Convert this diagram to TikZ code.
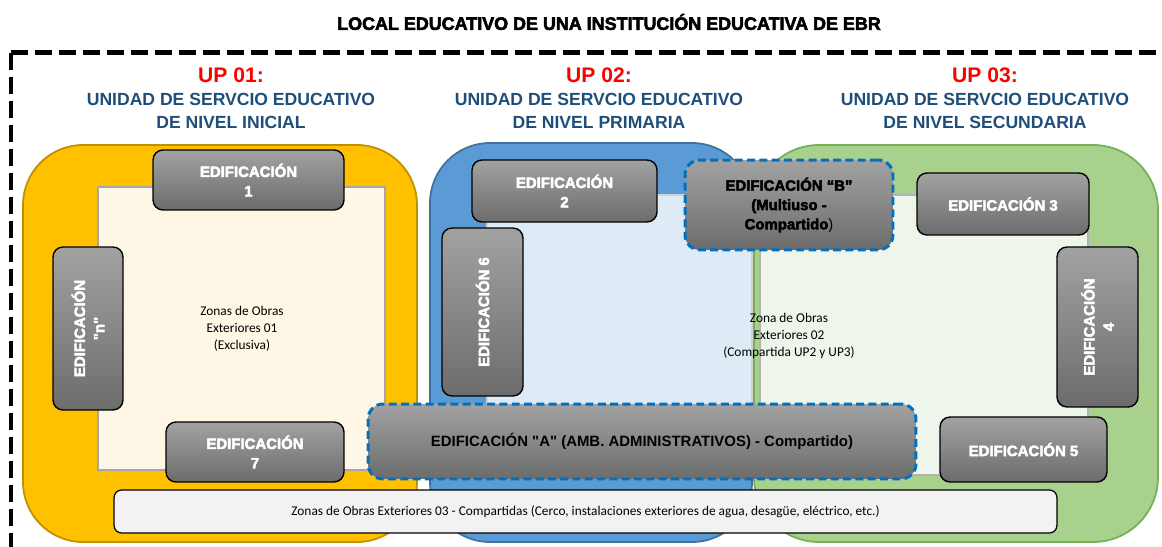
\documentclass[tikz,border=0pt]{standalone}
\usepackage{fontspec}
\setmainfont{Liberation Sans}
\newfontfamily\calibri{Carlito}
\newfontfamily\heavy{Liberation Sans}[BoldFeatures={FakeBold=3}]
\usepackage{tikz}

\definecolor{edtop}{RGB}{162,162,162}
\definecolor{edbot}{RGB}{108,108,108}
\definecolor{upblue}{RGB}{31,78,121}
\definecolor{upred}{RGB}{255,0,0}
\definecolor{zyellow}{RGB}{255,192,0}
\definecolor{zyellowb}{RGB}{191,144,0}
\definecolor{cream}{RGB}{255,247,229}
\definecolor{zblue}{RGB}{91,155,213}
\definecolor{zblueb}{RGB}{65,113,156}
\definecolor{lblue}{RGB}{222,235,247}
\definecolor{zgreen}{RGB}{169,209,142}
\definecolor{zgreenb}{RGB}{120,175,85}
\definecolor{lgreen}{RGB}{238,245,234}
\definecolor{dashblue}{RGB}{0,112,192}
\definecolor{barfill}{RGB}{242,242,242}

\begin{document}
\begin{tikzpicture}[x=0.02cm, y=-0.02cm,
  edif/.style={draw=black, line width=0.8pt, rounded corners=0.2cm,
    top color=edtop, bottom color=edbot, text=white, align=center,
    font=\heavy\bfseries\fontsize{8.5}{11}\selectfont, inner sep=2pt},
  shared/.style={draw=dashblue, line width=1.7pt, dash pattern=on 4.5pt off 2.5pt,
    rounded corners=0.3cm, top color=edtop, bottom color=edbot, text=black, align=center},
  zona/.style={font=\calibri\fontsize{7.6}{9.6}\selectfont, align=center},
  uptitle/.style={font=\bfseries\fontsize{12}{14}\selectfont, text=upred},
  upname/.style={font=\bfseries\fontsize{10}{13.3}\selectfont, text=upblue, align=center}]

\useasboundingbox (0,0) rectangle (1162,547);

% titulo y borde del local
\node[font=\heavy\bfseries\fontsize{10.2}{12}\selectfont] (titulo) at (609,22)
  {LOCAL EDUCATIVO DE UNA INSTITUCIÓN EDUCATIVA DE EBR};
\draw[line width=0.1cm, dash pattern=on 0.34cm off 0.14cm] (11,53) -- (1162,53);
\draw[line width=0.1cm, dash pattern=on 0.34cm off 0.14cm] (11,53) -- (11,547);

% unidades de servicio
\node[uptitle] (up1) at (231,75) {UP 01:};
\node[upname] (up1n) at (231,111) {UNIDAD DE SERVCIO EDUCATIVO\\DE NIVEL INICIAL};
\node[uptitle] (up2) at (599,75) {UP 02:};
\node[upname] (up2n) at (599,111) {UNIDAD DE SERVCIO EDUCATIVO\\DE NIVEL PRIMARIA};
\node[uptitle] (up3) at (985,75) {UP 03:};
\node[upname] (up3n) at (985,111) {UNIDAD DE SERVCIO EDUCATIVO\\DE NIVEL SECUNDARIA};

% zonas
\filldraw[draw=zyellowb, fill=zyellow, line width=1pt, rounded corners=1.2cm] (23,145) rectangle (417,542);
\filldraw[draw=gray!70, fill=cream, line width=1.2pt] (98,187) rectangle (385,470);
\filldraw[draw=zblueb, fill=zblue, line width=1pt, rounded corners=1.2cm] (430,143) rectangle (752,542);
\filldraw[draw=gray!35, fill=lblue, line width=1.2pt] (487,195) rectangle (752,475);
\filldraw[draw=zgreenb, fill=zgreen, line width=1pt, rounded corners=1.3cm] (754,145) rectangle (1158,542);
\filldraw[draw=gray!60, fill=lgreen, line width=1.2pt] (760,195) rectangle (1088,475);

\node[zona] (zona1) at (242,329) {Zonas de Obras\\Exteriores 01\\(Exclusiva)};
\node[zona] (zona2) at (789,336) {Zona de Obras\\Exteriores 02\\(Compartida UP2 y UP3)};

% edificaciones
\node[edif, minimum width=3.82cm, minimum height=1.2cm] (ed1) at (248.5,180) {EDIFICACIÓN\\1};
\node[edif, rotate=90, minimum width=3.26cm, minimum height=1.4cm] (edn) at (88,328.5) {EDIFICACIÓN\\\textquotedbl n\textquotedbl};
\node[edif, minimum width=3.56cm, minimum height=1.2cm] (ed7) at (255,452) {EDIFICACIÓN\\7};
\node[edif, minimum width=3.7cm, minimum height=1.24cm] (ed2) at (564.5,191) {EDIFICACIÓN\\2};
\node[edif, rotate=90, minimum width=3.36cm, minimum height=1.62cm] (ed6) at (482.5,312) {EDIFICACIÓN 6};
\node[edif, minimum width=3.44cm, minimum height=1.24cm] (ed3) at (1003,204) {EDIFICACIÓN 3};
\node[edif, rotate=90, minimum width=3.2cm, minimum height=1.62cm] (ed4) at (1097.5,327) {EDIFICACIÓN\\4};
\node[edif, minimum width=3.34cm, minimum height=1.3cm] (ed5) at (1023.5,449.5) {EDIFICACIÓN 5};

% edificaciones compartidas
\node[shared, minimum width=4.16cm, minimum height=1.8cm, font=\heavy\bfseries\fontsize{8.5}{11}\selectfont] (edB) at (789,205)
  {EDIFICACIÓN “B”\\(Multiuso -\\Compartido{\mdseries)}};
\node[shared, minimum width=10.96cm, minimum height=1.5cm, font=\bfseries\fontsize{8.5}{11}\selectfont] (edA) at (642,441.5)
  {EDIFICACIÓN \textquotedbl A\textquotedbl{} (AMB. ADMINISTRATIVOS) - Compartido)};

\node[draw=black, line width=0.7pt, fill=barfill, rounded corners=0.15cm, minimum width=18.86cm, minimum height=0.86cm,
  font=\calibri\fontsize{7.6}{9.6}\selectfont] (zona3) at (585.5,511.5)
  {Zonas de Obras Exteriores 03 - Compartidas (Cerco, instalaciones exteriores de agua, desagüe, eléctrico, etc.)};

\end{tikzpicture}
\end{document}
